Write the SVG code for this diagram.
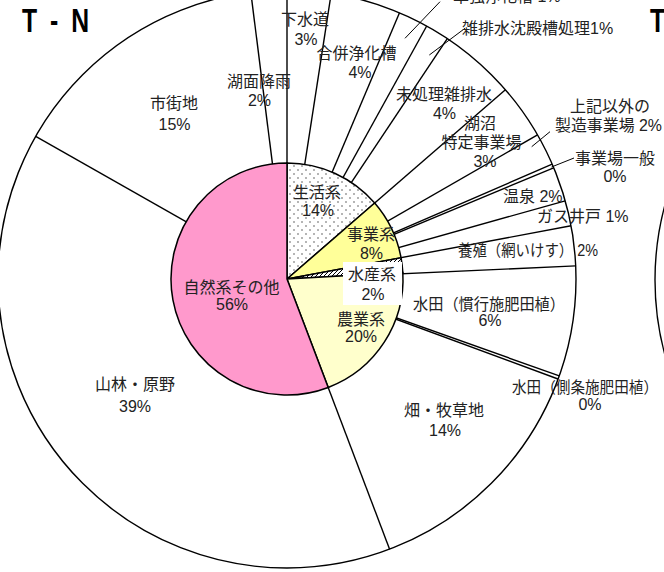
<svg xmlns="http://www.w3.org/2000/svg" width="664" height="572" viewBox="0 0 664 572">
<style>
.t{font-family:"Liberation Sans Narrow","Liberation Sans","Noto Sans CJK JP",sans-serif;font-size:16px;fill:#222;text-anchor:middle}
.s{text-anchor:start}
.title{font-family:"Liberation Sans","Arial",sans-serif;font-size:33px;font-weight:bold;fill:#000}
.ln{stroke:#000;stroke-width:1.4;fill:none}
.ld{stroke:#000;stroke-width:1;fill:none}
.w{stroke:#000;stroke-width:1.5}
</style>
<defs>
<pattern id="dots" width="8" height="8" patternUnits="userSpaceOnUse"><rect width="8" height="8" fill="#fff"/><circle cx="2" cy="2" r="0.7" fill="#333"/><circle cx="6" cy="6" r="0.7" fill="#333"/></pattern>
<pattern id="hatch" width="4" height="4" patternUnits="userSpaceOnUse"><rect width="4" height="4" fill="#fff"/><path d="M-1,1 L1,-1 M0,4 L4,0 M3,5 L5,3" stroke="#000" stroke-width="1"/></pattern>
</defs>
<rect width="664" height="572" fill="#fff"/>
<g id="outer-pie">
<circle cx="287" cy="279" r="289" fill="#fff" stroke="#000" stroke-width="1.4"/>
</g>
<g id="next-pie">
<circle cx="943" cy="280" r="288" fill="#fff" stroke="#000" stroke-width="1.4"/>
</g>
<g id="connectors">
<path class="ln" d="M287,279 L287,-10"/>
<path class="ln" d="M287,279 L331.2,-6.6"/>
<path class="ln" d="M287,279 L399.5,12.8"/>
<path class="ln" d="M287,279 L426.7,26"/>
<path class="ln" d="M287,279 L447.3,38.6"/>
<path class="ln" d="M287,279 L505.4,89.8"/>
<path class="ln" d="M287,279 L537.5,134.9"/>
<path class="ln" d="M287,279 L552.2,164.2"/>
<path class="ln" d="M287,279 L553.6,167.8"/>
<path class="ln" d="M287,279 L565.2,200.8"/>
<path class="ln" d="M287,279 L571.1,225.8"/>
<path class="ln" d="M287,279 L575.7,265.9"/>
<path class="ln" d="M287,279 L559.3,375.9"/>
<path class="ln" d="M287,279 L558,379"/>
<path class="ln" d="M287,279 L389.6,549.2"/>
<path class="ln" d="M287,279 L35.7,136.3"/>
<path class="ln" d="M287,279 L250.8,-7.7"/>
<path class="ld" d="M440,1.7 L405,38.3"/>
<path class="ld" d="M465,28.3 L429.3,55"/>
<path class="ld" d="M550,131.7 L531.7,146.7"/>
<path class="ld" d="M551.5,167 L574,158"/>
</g>
<g id="inner-pie">
<path id="seikatsu" class="w" fill="url(#dots)" d="M287,279 L287,163 A116,116 0 0 1 374.7,203.05 Z"/>
<path id="jigyo" class="w" fill="#FFFF99" d="M287,279 L374.7,203.05 A116,116 0 0 1 401.06,257.86 Z"/>
<path id="suisan" class="w" fill="url(#hatch)" d="M287,279 L401.06,257.86 A116,116 0 0 1 402.82,272.52 Z"/>
<path id="nogyo" class="w" fill="#FFFFCC" d="M287,279 L402.82,272.52 A116,116 0 0 1 328.19,387.44 Z"/>
<path id="shizen" class="w" fill="#FF99CC" d="M287,279 L328.19,387.44 A116,116 0 1 1 287,163 Z"/>
</g>
<rect x="343" y="262" width="59" height="43" fill="#fff"/>
<g id="titles">
<text class="title" transform="scale(0.75,1)" y="32"><tspan x="29.3">T</tspan> <tspan x="66.7">-</tspan> <tspan x="95">N</tspan></text>
<text class="title" transform="scale(0.75,1)" x="866.7" y="32">T</text>
</g>
<g id="labels">
<g id="l-shigaichi"><text class="t" x="174" y="109">市街地</text><text class="t" x="174.5" y="129.5">15%</text></g>
<g id="l-komen"><text class="t" x="259" y="87">湖面降雨</text><text class="t" x="259.5" y="106">2%</text></g>
<g id="l-gesuido"><text class="t" x="305" y="25">下水道</text><text class="t" x="306" y="45">3%</text></g>
<g id="l-gappei"><text class="t" x="356.5" y="59">合併浄化槽</text><text class="t" x="360" y="78">4%</text></g>
<g id="l-tandoku"><text class="t s" x="453" y="2">単独浄化槽 1%</text></g>
<g id="l-zatsu"><text class="t s" x="462" y="34">雑排水沈殿槽処理1%</text></g>
<g id="l-mishori"><text class="t" x="444" y="100">未処理雑排水</text><text class="t" x="444.5" y="119">4%</text></g>
<g id="l-koshou"><text class="t" x="480" y="129">湖沼</text><text class="t" x="481.5" y="148">特定事業場</text><text class="t" x="485" y="167">3%</text></g>
<g id="l-seizo"><text class="t" x="610" y="112">上記以外の</text><text class="t s" x="555" y="131" textLength="107" lengthAdjust="spacingAndGlyphs">製造事業場 2%</text></g>
<g id="l-ippan"><text class="t" x="615" y="164">事業場一般</text><text class="t" x="615" y="182">0%</text></g>
<g id="l-onsen"><text class="t s" x="503" y="202">温泉 2%</text></g>
<g id="l-gas"><text class="t s" x="537" y="222">ガス井戸 1%</text></g>
<g id="l-yoshoku"><text class="t s" x="458" y="256" textLength="140" lengthAdjust="spacingAndGlyphs">養殖（網いけす） 2%</text></g>
<g id="l-kanko"><text class="t" x="489" y="310" textLength="152" lengthAdjust="spacingAndGlyphs">水田（慣行施肥田植）</text><text class="t" x="490" y="326">6%</text></g>
<g id="l-sokujo"><text class="t s" x="512" y="393" style="font-size:15.5px" textLength="146" lengthAdjust="spacingAndGlyphs">水田（側条施肥田植）</text><text class="t" x="590" y="410">0%</text></g>
<g id="l-hatake"><text class="t" x="444" y="416">畑・牧草地</text><text class="t" x="445" y="436">14%</text></g>
<g id="l-sanrin"><text class="t" x="135" y="390">山林・原野</text><text class="t" x="135" y="412">39%</text></g>
<g id="l-seikatsu"><text class="t" x="317" y="198">生活系</text><text class="t" x="318" y="216">14%</text></g>
<g id="l-jigyo"><text class="t" x="371" y="240">事業系</text><text class="t" x="371.5" y="259">8%</text></g>
<g id="l-suisan"><text class="t" x="372" y="280">水産系</text><text class="t" x="373" y="300">2%</text></g>
<g id="l-nogyo"><text class="t" x="361" y="325">農業系</text><text class="t" x="361" y="342">20%</text></g>
<g id="l-shizen"><text class="t" x="231.5" y="293">自然系その他</text><text class="t" x="232" y="310">56%</text></g>
</g>
</svg>
